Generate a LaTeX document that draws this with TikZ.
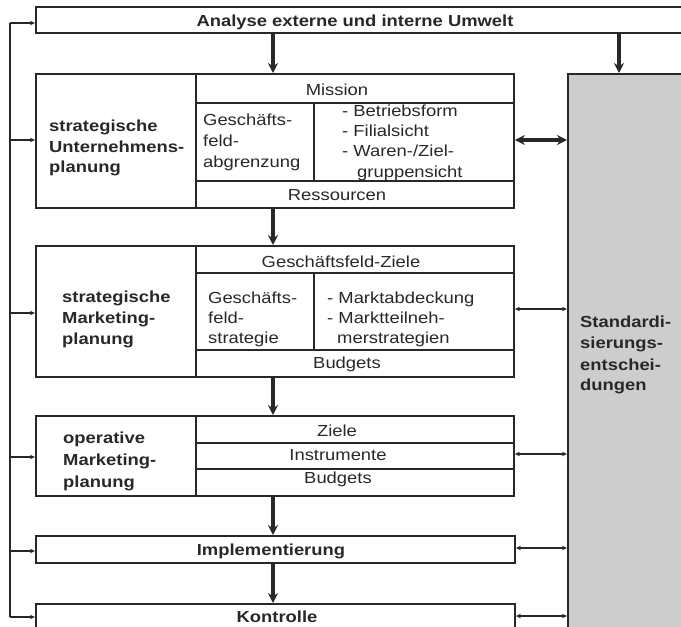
\documentclass[tikz,border=0pt]{standalone}
\usepackage{fontspec}
\setmainfont{Liberation Sans}[FakeStretch=1.15]
\usetikzlibrary{arrows.meta}
\definecolor{ink}{RGB}{40,40,40}
\definecolor{shade}{RGB}{205,205,205}
\tikzset{
 box/.style={draw=ink, line width=1.9pt, anchor=north west, inner sep=0pt, rectangle},
 txt/.style={text=ink, inner sep=0pt, anchor=base west, font=\fontsize{16}{21}\selectfont},
 ctxt/.style={txt, anchor=base},
 btxt/.style={txt, font=\fontsize{16}{21}\selectfont\bfseries},
 bctxt/.style={btxt, anchor=base},
 flow/.style={draw=ink, line width=3.5pt, -{Stealth[length=10pt,width=10pt]}},
 fb/.style={draw=ink, line width=1.5pt},
 fbarrow/.style={fb, -{Stealth[length=5pt,width=4.5pt]}},
 link/.style={draw=ink, line width=1.5pt, {Stealth[length=5pt,width=4.5pt]}-{Stealth[length=5pt,width=4.5pt]}},
 biglink/.style={draw=ink, line width=3.3pt, {Stealth[length=10pt,width=10pt]}-{Stealth[length=10pt,width=10pt]}},
 divline/.style={draw=ink, line width=1.9pt},
}
\begin{document}
\begin{tikzpicture}[x=1pt,y=-1pt]
\useasboundingbox (0,0) rectangle (681,627);
\clip (0,0) rectangle (681,627);
\fill[white] (0,0) rectangle (681,627);

% boxes
\node[box, minimum width=660pt, minimum height=26pt] (top) at (35,6) {};
\node[box, fill=shade, minimum width=130pt, minimum height=570pt] (grey) at (567,73) {};

\node[box, minimum width=478pt, minimum height=134pt] (b1) at (35,73) {};
\node[box, minimum width=160pt, minimum height=134pt] (b1L) at (35,73) {};
\node[box, minimum width=318pt, minimum height=29pt] (b1a) at (195,73) {};
\node[box, minimum width=318pt, minimum height=78pt] (b1b) at (195,102) {};
\node[box, minimum width=318pt, minimum height=27pt] (b1c) at (195,180) {};
\coordinate (d1) at (314,0);
\draw[divline] (d1 |- b1b.north) -- (d1 |- b1b.south);

\node[box, minimum width=478pt, minimum height=131pt] (b2) at (35,245) {};
\node[box, minimum width=160pt, minimum height=131pt] (b2L) at (35,245) {};
\node[box, minimum width=318pt, minimum height=27pt] (b2a) at (195,245) {};
\node[box, minimum width=318pt, minimum height=77pt] (b2b) at (195,272) {};
\node[box, minimum width=318pt, minimum height=27pt] (b2c) at (195,349) {};
\draw[divline] (d1 |- b2b.north) -- (d1 |- b2b.south);

\node[box, minimum width=478pt, minimum height=80pt] (b3) at (35,415) {};
\node[box, minimum width=160pt, minimum height=80pt] (b3L) at (35,415) {};
\node[box, minimum width=318pt, minimum height=27pt] (b3a) at (195,415) {};
\node[box, minimum width=318pt, minimum height=26pt] (b3b) at (195,442) {};
\node[box, minimum width=318pt, minimum height=27pt] (b3c) at (195,468) {};

\node[box, minimum width=479pt, minimum height=27pt] (impl) at (35,535) {};
\node[box, minimum width=479pt, minimum height=40pt] (kon) at (35,603) {};

% texts
\node[bctxt] (ttop) at (355,26) {Analyse externe und interne Umwelt};

\node[btxt] (s1a) at (49,131) {strategische};
\node[btxt] (s1b) at (49,152) {Unternehmens-};
\node[btxt] (s1c) at (49,172) {planung};
\node[ctxt] (mis) at (337,95) {Mission};
\node[txt] (g1a) at (203,125) {Geschäfts-};
\node[txt] (g1b) at (203,146) {feld-};
\node[txt] (g1c) at (203,167) {abgrenzung};
\node[txt] (r1a) at (342,116) {- Betriebsform};
\node[txt] (r1b) at (342,136) {- Filialsicht};
\node[txt] (r1c) at (342,156) {- Waren-/Ziel-};
\node[txt] (r1d) at (357,177) {gruppensicht};
\node[ctxt] (res) at (337,200) {Ressourcen};

\node[btxt] (s2a) at (62,302) {strategische};
\node[btxt] (s2b) at (62,323) {Marketing-};
\node[btxt] (s2c) at (62,344) {planung};
\node[ctxt] (gfz) at (341,267) {Geschäftsfeld-Ziele};
\node[txt] (g2a) at (208,303) {Geschäfts-};
\node[txt] (g2b) at (208,323) {feld-};
\node[txt] (g2c) at (208,343) {strategie};
\node[txt] (r2a) at (327,303) {- Marktabdeckung};
\node[txt] (r2b) at (327,323) {- Marktteilneh-};
\node[txt] (r2c) at (337,343) {merstrategien};
\node[ctxt] (bud2) at (347,368) {Budgets};

\node[btxt] (s3a) at (63,443) {operative};
\node[btxt] (s3b) at (63,465) {Marketing-};
\node[btxt] (s3c) at (63,487) {planung};
\node[ctxt] (zie) at (337,436) {Ziele};
\node[ctxt] (ins) at (338,460) {Instrumente};
\node[ctxt] (bud3) at (338,483) {Budgets};

\node[bctxt] (timpl) at (271,555) {Implementierung};
\node[bctxt] (tkon) at (277,622) {Kontrolle};

\node[btxt] (st1) at (580,327) {Standardi-};
\node[btxt] (st2) at (580,348) {sierungs-};
\node[btxt] (st3) at (580,370) {entschei-};
\node[btxt] (st4) at (580,390) {dungen};

% main flow
\coordinate (cx) at (273,0);
\draw[flow] (cx |- top.south) -- (cx |- b1.north);
\draw[flow] (cx |- b1.south) -- (cx |- b2.north);
\draw[flow] (cx |- b2.south) -- (cx |- b3.north);
\draw[flow] (cx |- b3.south) -- (cx |- impl.north);
\draw[flow] (cx |- impl.south) -- (cx |- kon.north);
\coordinate (gx) at (619,0);
\draw[flow] (gx |- top.south) -- (gx |- grey.north);

% links to standardisation box
\draw[biglink] (b1.east |- 0,140) -- (grey.west |- 0,140);
\draw[link] (b2.east |- 0,309) -- (grey.west |- 0,309);
\draw[link] (b3.east |- 0,454) -- (grey.west |- 0,454);
\draw[link] (impl.east |- 0,548) -- (grey.west |- 0,548);
\draw[link] (kon.east |- 0,616) -- (grey.west |- 0,616);

% feedback loop
\coordinate (lt) at (10,23);
\coordinate (l1) at (10,140);
\coordinate (l2) at (10,313);
\coordinate (l3) at (10,457);
\coordinate (l4) at (10,551);
\coordinate (lk) at (10,617);
\draw[fb] (lt) -- (lk);
\draw[fbarrow] (lt) -- (lt -| top.west);
\draw[fbarrow] (l1) -- (l1 -| b1L.west);
\draw[fbarrow] (l2) -- (l2 -| b2L.west);
\draw[fbarrow] (l3) -- (l3 -| b3L.west);
\draw[fbarrow] (l4) -- (l4 -| impl.west);
\draw[fbarrow] (lk) -- (lk -| kon.west);
\end{tikzpicture}
\end{document}
